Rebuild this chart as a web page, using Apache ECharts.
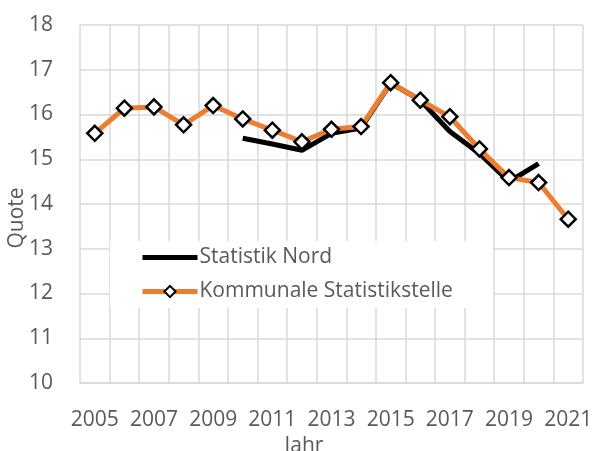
<!DOCTYPE html>
<html>
<head>
<meta charset="utf-8">
<script src="https://cdn.jsdelivr.net/npm/echarts@6/dist/echarts.min.js"></script>
<style>
  html, body { margin: 0; padding: 0; background: #fff; }
  #main { width: 595px; height: 451px; }
</style>
</head>
<body>
<div id="main"></div>
<script>
// Jahre und Quoten
const years = ['2005', '2006', '2007', '2008', '2009', '2010', '2011', '2012', '2013',
  '2014', '2015', '2016', '2017', '2018', '2019', '2020', '2021']
const statistikNord = [null, null, null, null, null, 15.47, 15.34, 15.2, 15.58,
  15.7, 16.7, 16.32, 15.62, 15.13, 14.5, 14.9, null]
const kommunal = [15.58, 16.14, 16.17, 15.77, 16.2, 15.9, 15.65, 15.39, 15.67,
  15.73, 16.71, 16.32, 15.95, 15.23, 14.59, 14.48, 13.66]

const gridColor = '#d9d9d9'
const textColor = '#595959'
const font = 'Open Sans'
const fs = 21

const chart = echarts.init(document.getElementById('main'))
chart.setOption({
  backgroundColor: '#fff',
  animation: false,
  textStyle: { fontFamily: font },
  grid: { left: 80, right: 12, top: 25, bottom: 68, outerBoundsMode: 'none' },
  legend: {
    orient: 'vertical',
    left: 110,
    top: 241,
    padding: [6, 40, 6, 30],
    backgroundColor: '#fff',
    itemWidth: 55,
    itemHeight: 14,
    itemGap: 13,
    lineStyle: { width: 5 },
    textStyle: { color: textColor, fontSize: fs, fontFamily: font, padding: [0, 0, 0, -3] },
    data: [
      { name: 'Statistik Nord', icon: 'path://M0,0H55V5H0Z', itemStyle: { color: '#000' } },
      { name: 'Kommunale Statistikstelle' }
    ]
  },
  xAxis: {
    type: 'category',
    data: years,
    boundaryGap: true,
    name: 'Jahr',
    nameLocation: 'middle',
    nameGap: 50,
    nameTextStyle: { color: textColor, fontSize: fs, padding: [0, 55, 0, 0] },
    axisLine: { lineStyle: { color: gridColor, width: 1.5 } },
    axisTick: { show: false },
    axisLabel: { interval: 1, color: textColor, fontSize: fs, margin: 27 },
    splitLine: { show: true, interval: 0, lineStyle: { color: gridColor, width: 1.5 } }
  },
  yAxis: {
    type: 'value',
    min: 10,
    max: 18,
    interval: 1,
    name: 'Quote',
    nameLocation: 'middle',
    nameGap: 52,
    nameMoveOverlap: false,
    nameTextStyle: { color: textColor, fontSize: fs, padding: [0, 28, 0, 0] },
    axisLine: { show: false },
    axisTick: { show: false },
    axisLabel: { color: textColor, fontSize: fs, margin: 27 },
    splitLine: { lineStyle: { color: gridColor, width: 1.5 } }
  },
  series: [
    {
      name: 'Statistik Nord',
      type: 'line',
      data: statistikNord,
      symbol: 'none',
      lineStyle: { color: '#000', width: 5 },
      itemStyle: { color: '#000' },
      z: 2
    },
    {
      name: 'Kommunale Statistikstelle',
      type: 'line',
      data: kommunal,
      symbol: 'diamond',
      symbolSize: 15,
      lineStyle: { color: '#ed7d31', width: 5 },
      itemStyle: { color: '#fff', borderColor: '#000', borderWidth: 2.5 },
      z: 3
    }
  ]
})
</script>
</body>
</html>
